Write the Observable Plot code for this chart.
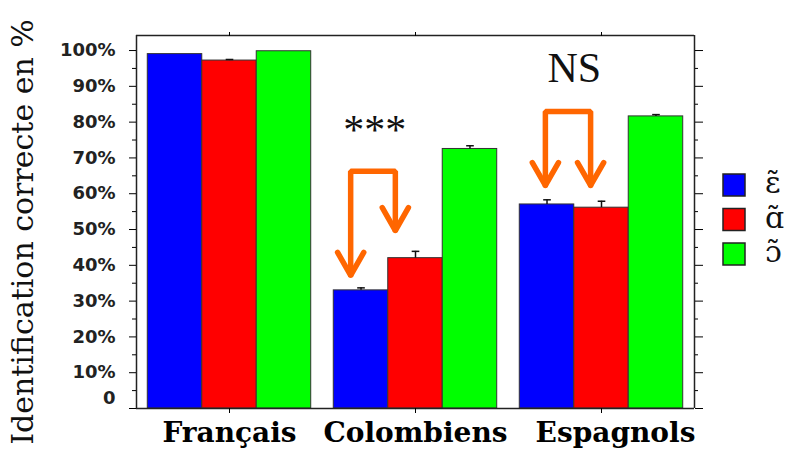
<!DOCTYPE html>
<html><head><meta charset="utf-8">
<script src="https://cdn.jsdelivr.net/npm/d3@7"></script>
<script src="https://cdn.jsdelivr.net/npm/@observablehq/plot@0.6"></script>
<style>
body{margin:0;background:#fff;}
#wrap{position:relative;width:788px;height:465px;overflow:hidden;}
#wrap svg{position:absolute;left:0;top:0;}
</style></head><body><div id="wrap"></div>
<script>
// ---- data ----
const groups = ["Français", "Colombiens", "Espagnols"];
const series = ["ɛ̃", "ɑ̃", "ɔ̃"];
const colors = ["#0000ff", "#ff0000", "#00ff00"];
const valsE = [99.0, 33.0, 57.0];
const valsA = [97.2, 42.0, 56.1];
const valsO = [99.8, 72.5, 81.6];
const errE = [0, 0.7, 1.3];
const errA = [0.3, 1.9, 1.8];
const errO = [0, 0.9, 0.5];
const yMajor = [10, 20, 30, 40, 50, 60, 70, 80, 90, 100];
const yMinor = [5, 15, 25, 35, 45, 55, 65, 75, 85, 95];
const yTitle = "Identification correcte en %";
// significance labels
const sigText = ["***", "NS"];
const sigGroup = ["Colombiens", "Espagnols"];
const sigX = [0.75, 1.0];
const sigY = [77.6, 95];
// orange brackets (x in bar units within group, y in %)
const brGroup = ["Colombiens", "Espagnols"];
const brXL = [0.31, 0.47];
const brXR = [1.13, 1.30];
const brTop = [66.3, 83.0];
const brTipL = [37.2, 62.3];
const brTipR = [49.7, 62.3];

// ---- layout constants ----
const yMax = 104.2;
const xDom = [-0.207, 3.207];
const arrowW = 0.24, arrowH = 6.4;

const valsArr = [valsE, valsA, valsO];
const errArr = [errE, errA, errO];
const bars = groups.flatMap((g, i) => series.map((s, j) => ({g, s, j, v: valsArr[j][i], e: errArr[j][i]})));
const errs = bars.filter(d => d.e > 0);
const brPts = [], chevPts = [];
brGroup.forEach((g, k) => {
  const id = "b" + k;
  brPts.push({g, id, x: brXL[k], y: brTipL[k]}, {g, id, x: brXL[k], y: brTop[k]},
             {g, id, x: brXR[k], y: brTop[k]}, {g, id, x: brXR[k], y: brTipR[k]});
  [[brXL[k], brTipL[k]], [brXR[k], brTipR[k]]].forEach(([x, y], m) => {
    const cid = "c" + k + m;
    chevPts.push({g, id: cid, x: x - arrowW, y: y + arrowH}, {g, id: cid, x, y}, {g, id: cid, x: x + arrowW, y: y + arrowH});
  });
});
const sigs = sigText.map((t, i) => ({t, g: sigGroup[i], x: sigX[i], y: sigY[i]}));

const tickFont = {fontSize: 18, fontWeight: "bold", fontFamily: "DejaVu Sans", fill: "#222"};
const fxFont = {fontSize: 28, fontWeight: "bold", fontFamily: "DejaVu Serif"};

const chart = Plot.plot({
  width: 788, height: 465,
  marginLeft: 135, marginRight: 93, marginTop: 35, marginBottom: 57,
  fx: {domain: groups, padding: 0, label: null},
  x: {domain: xDom, axis: null},
  y: {domain: [0, yMax]},
  color: {domain: series, range: colors},
  style: {background: "transparent", overflow: "visible"},
  marks: [
    Plot.rectY(bars, {fx: "g", x1: "j", x2: d => d.j + 1, y1: 0, y2: "v", fill: "s", stroke: "#333", strokeWidth: 1}),
    Plot.ruleX(errs, {fx: "g", x: d => d.j + 0.5, y1: "v", y2: d => d.v + d.e, stroke: "#111", strokeWidth: 1.5}),
    Plot.link(errs, {fx: "g", x1: d => d.j + 0.43, x2: d => d.j + 0.57, y1: d => d.v + d.e, y2: d => d.v + d.e, stroke: "#111", strokeWidth: 1.5}),
    Plot.ruleY([0, yMax], {stroke: "#222", strokeWidth: 1.5}),
    Plot.ruleX([{g: groups[0], x: xDom[0]}], {fx: "g", x: "x", y1: 0, y2: yMax, stroke: "#222", strokeWidth: 1.5}),
    Plot.ruleX([{g: groups[2], x: xDom[1]}], {fx: "g", x: "x", y1: 0, y2: yMax, stroke: "#222", strokeWidth: 1.5}),
    Plot.axisY({ticks: yMajor, tickFormat: d => d + "%", tickSize: 7, tickPadding: 14, label: null, facetAnchor: "left", ...tickFont}),
    Plot.axisY({ticks: [0], tickFormat: () => "", tickSize: 7, label: null, facetAnchor: "left"}),
    Plot.axisY({ticks: [0], tickFormat: () => "0", tickSize: 0, tickPadding: 21, dy: -10, label: null, facetAnchor: "left", ...tickFont}),
    Plot.axisY({ticks: yMinor, tickFormat: () => "", tickSize: 4, label: null, facetAnchor: "left"}),
    Plot.axisY({anchor: "right", ticks: [0, ...yMajor], tickFormat: () => "", tickSize: 8, label: null, facetAnchor: "right"}),
    Plot.axisY({anchor: "right", ticks: yMinor, tickFormat: () => "", tickSize: 3, label: null, facetAnchor: "right"}),
    Plot.axisFx({anchor: "bottom", ticks: groups, tickSize: 5, tickFormat: () => "", label: null}),
    Plot.axisFx({anchor: "bottom", ticks: groups.slice(0, 2), tickSize: 0, tickPadding: 14, label: null, ...fxFont}),
    Plot.axisFx({anchor: "bottom", ticks: groups.slice(2), tickSize: 0, tickPadding: 14, dx: 14, label: null, ...fxFont}),
    Plot.axisFx({anchor: "top", tickSize: 4, tickFormat: () => "", label: null}),
    Plot.text([{g: groups[0], t: yTitle}], {fx: "g", text: "t", frameAnchor: "left", textAnchor: "middle", rotate: -90, dx: -113, dy: 10, fontFamily: "DejaVu Serif", fontSize: 30, fill: "#111"}),
    Plot.line(brPts, {fx: "g", x: "x", y: "y", z: "id", stroke: "#ff6600", strokeWidth: 5.5, strokeLinejoin: "miter"}),
    Plot.line(chevPts, {fx: "g", x: "x", y: "y", z: "id", stroke: "#ff6600", strokeWidth: 5.5, strokeLinejoin: "miter"}),
    Plot.text(sigs, {fx: "g", x: "x", y: "y", text: "t", fontFamily: "Liberation Serif", fontSize: 42, fill: "#111"})
  ]
});
const wrap = document.getElementById("wrap");
wrap.appendChild(chart);

// legend built from the plot's color scale
const color = chart.scale("color");
const leg = d3.select(wrap).append("svg").attr("width", 788).attr("height", 465).style("pointer-events", "none");
const items = leg.selectAll("g").data(color.domain).join("g")
  .attr("transform", (d, i) => `translate(723,${174 + i * 34.5})`);
items.append("rect").attr("width", 22).attr("height", 22)
  .attr("fill", d => color.apply(d)).attr("stroke", "#222").attr("stroke-width", 1.5);
items.append("text").attr("x", 42).attr("y", 19).text(d => d)
  .attr("font-family", "DejaVu Serif").attr("font-size", 30).attr("fill", "#111");
</script></body></html>
